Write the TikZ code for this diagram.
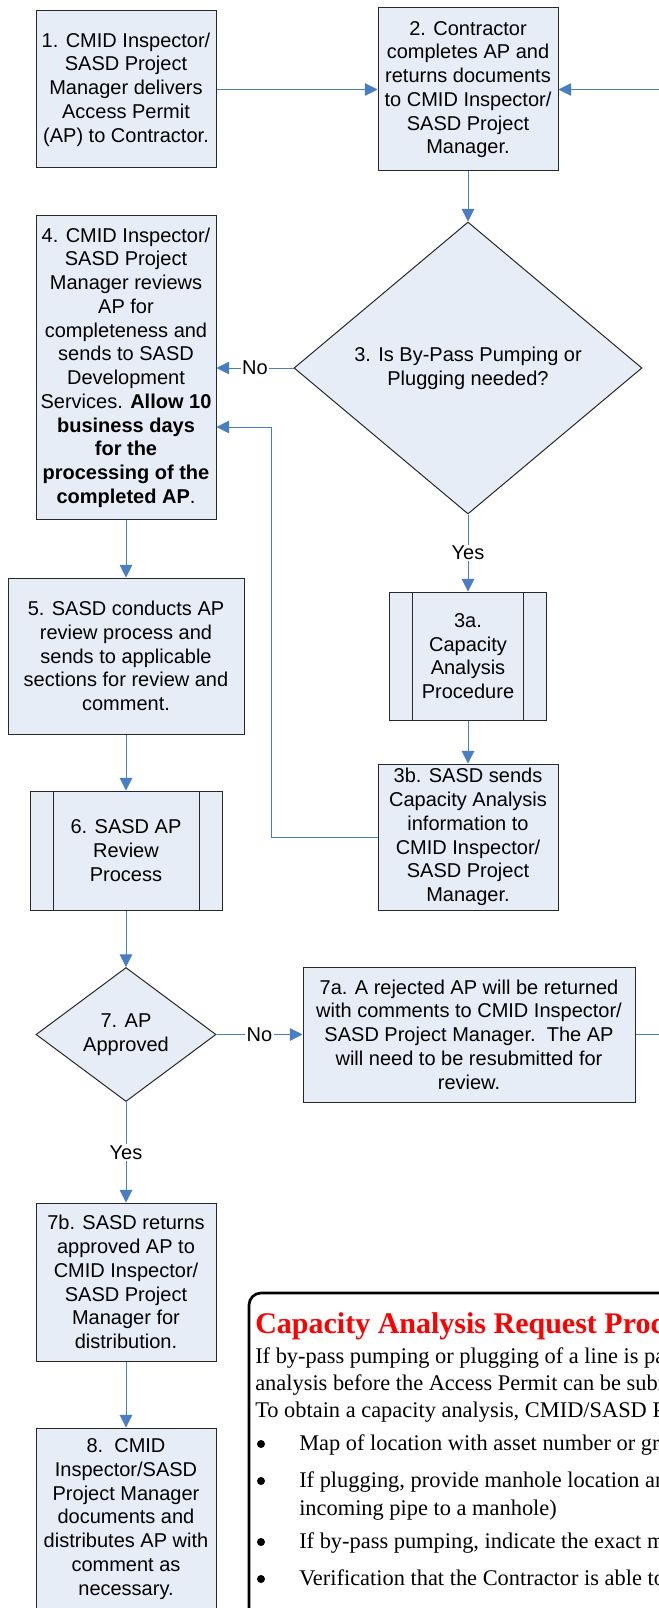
\documentclass[tikz,border=0pt]{standalone}
\usepackage{fontspec}
\setmainfont{Liberation Sans}
\newfontfamily\calloutfont{Liberation Serif}
\usepackage{tikz}
\usetikzlibrary{shapes.geometric,arrows.meta}

\definecolor{boxfill}{RGB}{231,237,247}
\definecolor{boxline}{RGB}{40,40,40}
\definecolor{connblue}{RGB}{74,126,196}

\begin{document}
\begin{tikzpicture}[x=0.75pt,y=0.75pt,yscale=-1,xscale=1,
    box/.style={draw=boxline,fill=boxfill,line width=0.75pt,align=center,inner sep=2pt,font=\fontsize{15}{17.8}\selectfont},
    subproc/.style={box,path picture={
        \draw[boxline,line width=0.75pt] ([xshift=17.25pt]path picture bounding box.north west) -- ([xshift=17.25pt]path picture bounding box.south west)
            ([xshift=-17.25pt]path picture bounding box.north east) -- ([xshift=-17.25pt]path picture bounding box.south east);}},
    decision/.style={box,diamond,inner sep=0pt},
    conn/.style={draw=connblue,line width=0.75pt,-{Triangle[length=9.5pt,width=9.5pt]}},
    lbl/.style={fill=white,inner sep=1pt,font=\fontsize{15}{17.8}\selectfont},
    calltext/.style={anchor=base west,inner sep=0pt,font=\calloutfont\fontsize{16.8}{20}\selectfont},
    dot/.style={circle,fill=black,inner sep=0pt,minimum size=6pt}]
    \useasboundingbox (0,0) rectangle (659,1608);
    \clip (0,0) rectangle (659,1608);

    %Shape: Rectangle
    \node[box,minimum width=135pt,minimum height=117.75pt] (n1) at (126,89.5) {1. CMID Inspector/\\SASD Project\\Manager delivers\\Access Permit\\(AP) to Contractor.};
    %Shape: Rectangle
    \node[box,minimum width=135pt,minimum height=122.25pt] (n2) at (468,89.5) {2. Contractor\\completes AP and\\returns documents\\to CMID Inspector/\\SASD Project\\Manager.};
    %Shape: Diamond
    \node[decision,minimum width=261pt,minimum height=219pt] (n3) at (468,368) {3. Is By-Pass Pumping or\\Plugging needed?};
    %Shape: Rectangle
    \node[box,minimum width=135pt,minimum height=227.25pt] (n4) at (126,367.5) {4. CMID Inspector/\\SASD Project\\Manager reviews\\AP for\\completeness and\\sends to SASD\\Development\\Services. \textbf{Allow 10}\\\textbf{business days}\\\textbf{for the}\\\textbf{processing of the}\\\textbf{completed AP}.};
    %Shape: Predefined Process
    \node[subproc,minimum width=117.75pt,minimum height=96pt] (n3a) at (468,656) {3a.\\Capacity\\Analysis\\Procedure};
    %Shape: Rectangle
    \node[box,minimum width=135pt,minimum height=109.5pt] (n3b) at (468,837) {3b. SASD sends\\Capacity Analysis\\information to\\CMID Inspector/\\SASD Project\\Manager.};
    %Shape: Rectangle
    \node[box,minimum width=177pt,minimum height=117pt] (n5) at (126,656) {5. SASD conducts AP\\review process and\\sends to applicable\\sections for review and\\comment.};
    %Shape: Predefined Process
    \node[subproc,minimum width=144pt,minimum height=89.25pt] (n6) at (126,850.5) {6. SASD AP\\Review\\Process};
    %Shape: Diamond
    \node[decision,minimum width=135pt,minimum height=100.5pt] (n7) at (126,1034.5) {7. AP\\Approved};
    %Shape: Rectangle
    \node[box,minimum width=249pt,minimum height=101.25pt] (n7a) at (469,1034.5) {7a. A rejected AP will be returned\\with comments to CMID Inspector/\\SASD Project Manager.\ \ The AP\\will need to be resubmitted for\\review.};
    %Shape: Rectangle
    \node[box,minimum width=135pt,minimum height=118.5pt] (n7b) at (126,1282) {7b. SASD returns\\approved AP to\\CMID Inspector/\\SASD Project\\Manager for\\distribution.};
    %Shape: Rectangle
    \node[box,minimum width=135pt,minimum height=136.5pt] (n8) at (126,1519) {8.\ \ CMID\\Inspector/SASD\\Project Manager\\documents and\\distributes AP with\\comment as\\necessary.};

    \coordinate (rin) at (675,89.5);
    \coordinate (rout) at (675,1034.5);
    \coordinate (back) at (271,427);

    %Straight Lines
    \draw[conn] (n1.east) -- (n2.west);
    \draw[conn] (rin) -- (n2.east);
    \draw[conn] (n2.south) -- (n3.north);
    \draw[conn] (n3.west) -- node[lbl] {No} (n3.west -| n4.east);
    \draw[conn] (n3.south) -- node[lbl] {Yes} (n3a.north);
    \draw[conn] (n3a.south) -- (n3b.north);
    \draw[conn] (n3b.west) -| (back) -- (back -| n4.east);
    \draw[conn] (n4.south) -- (n5.north);
    \draw[conn] (n5.south) -- (n6.north);
    \draw[conn] (n6.south) -- (n7.north);
    \draw[conn] (n7.east) -- node[lbl] {No} (n7a.west);
    \draw[draw=connblue,line width=0.75pt] (n7a.east) -- (rout);
    \draw[conn] (n7.south) -- node[lbl] {Yes} (n7b.north);
    \draw[conn] (n7b.south) -- (n8.north);

    %Shape: Rounded Rectangle
    \draw[line width=2pt,rounded corners=9pt] (249,1293) rectangle (760,1720);

    % Text Node
    \node[calltext,text=red,font=\calloutfont\bfseries\fontsize{22.5}{27}\selectfont] (ttl) at (255,1333) {Capacity Analysis Request Procedure};
    % Text Node
    \node[calltext] (p1) at (255,1363) {If by-pass pumping or plugging of a line is part};
    % Text Node
    \node[calltext] (p2) at (255,1390) {analysis before the Access Permit can be submitted};
    % Text Node
    \node[calltext] (p3) at (255,1417) {To obtain a capacity analysis, CMID/SASD Project};
    % Text Node
    \node[dot] (b1) at (261,1444) {};
    \node[calltext] (i1) at (299,1450) {Map of location with asset number or grid};
    % Text Node
    \node[dot] (b2) at (261,1481) {};
    \node[calltext] (i2) at (299,1487) {If plugging, provide manhole location and};
    \node[calltext] (i2b) at (299,1515) {incoming pipe to a manhole)};
    % Text Node
    \node[dot] (b3) at (261,1542) {};
    \node[calltext] (i3) at (299,1548) {If by-pass pumping, indicate the exact manhole};
    % Text Node
    \node[dot] (b4) at (261,1579) {};
    \node[calltext] (i4) at (299,1585) {Verification that the Contractor is able to};
\end{tikzpicture}
\end{document}
